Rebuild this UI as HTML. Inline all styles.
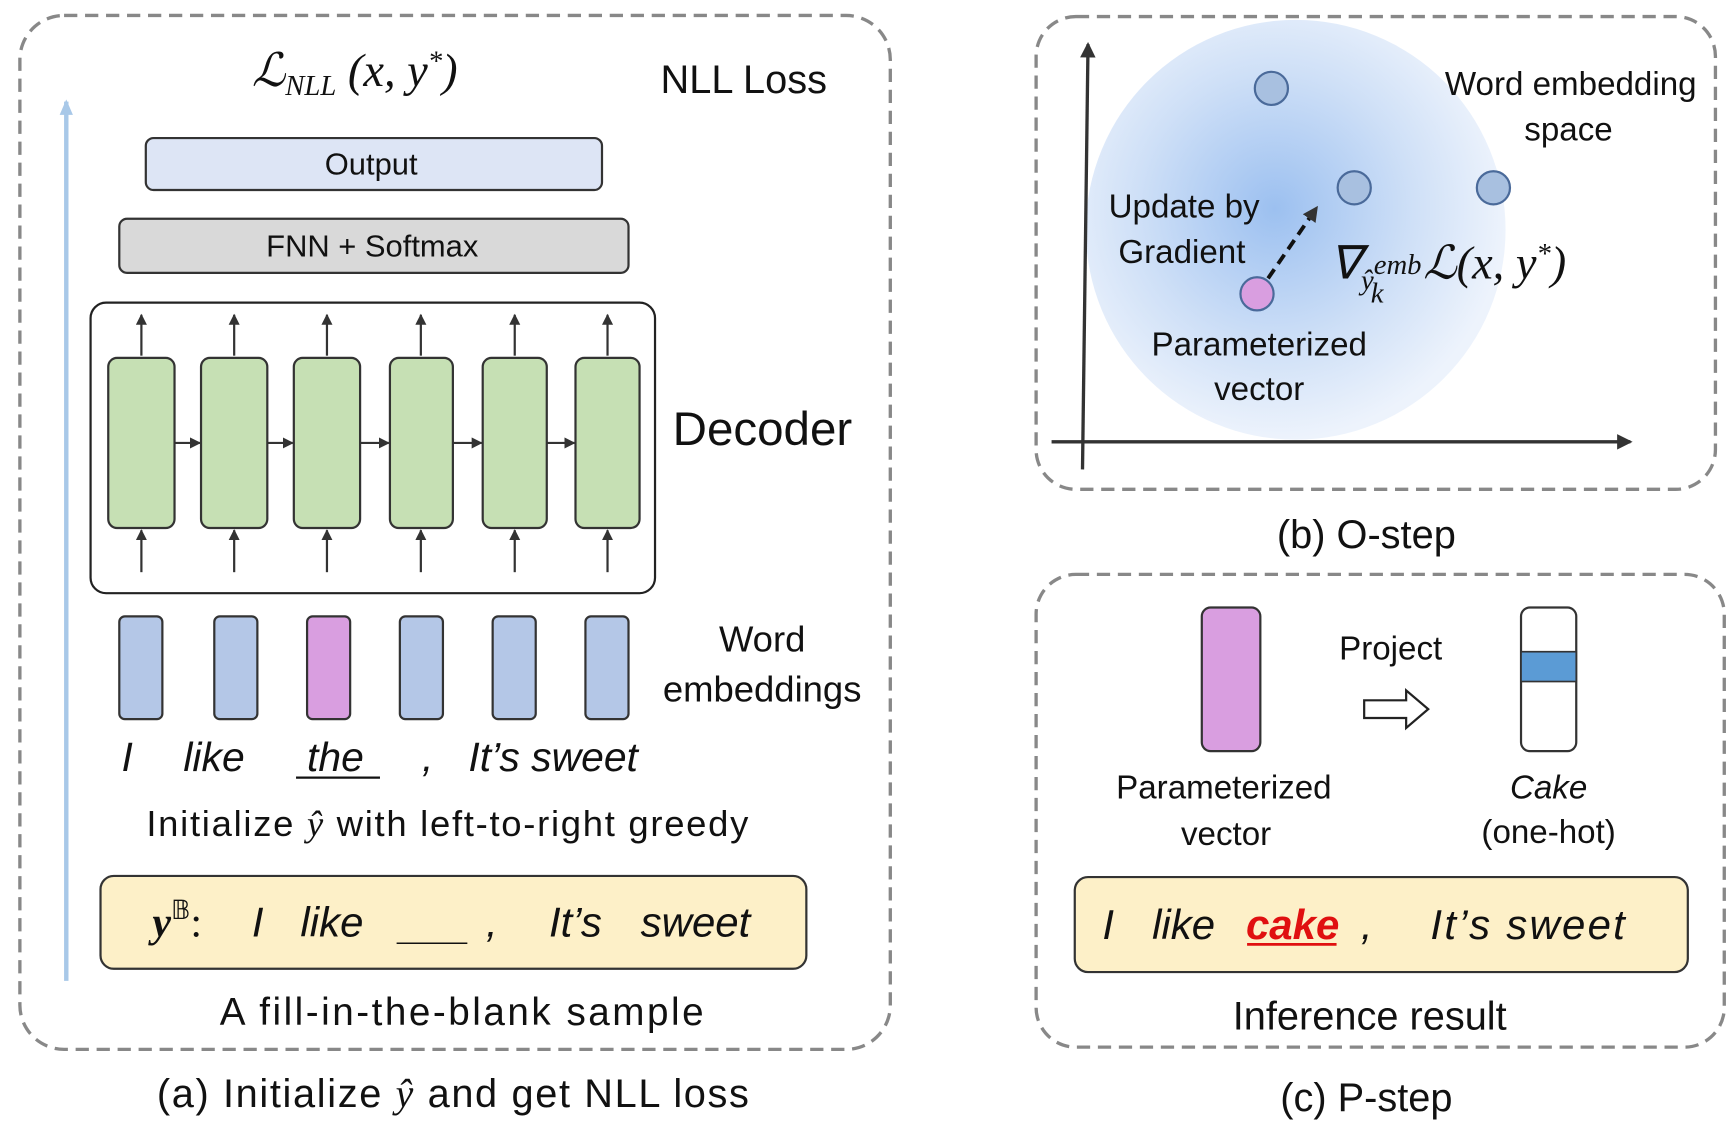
<!DOCTYPE html>
<html><head><meta charset="utf-8"><style>
html,body{margin:0;padding:0;background:#fff;}
svg{display:block;}
text{font-family:"Liberation Sans",sans-serif;fill:#111;}
.it{font-style:italic;}
.ser{font-family:"Liberation Serif",serif;font-style:italic;}
</style></head><body>
<svg width="1732" height="1130" viewBox="0 0 1568 1023" preserveAspectRatio="none" xmlns="http://www.w3.org/2000/svg">
<defs>
<marker id="ah" markerWidth="10" markerHeight="10" refX="9" refY="5" orient="auto" markerUnits="userSpaceOnUse"><path d="M0,0 L10,5 L0,10 z" fill="#333"/></marker>
<marker id="ahb" markerWidth="14" markerHeight="14" refX="12" refY="7" orient="auto" markerUnits="userSpaceOnUse"><path d="M0,0 L14,7 L0,14 z" fill="#333"/></marker>
<marker id="ahl" markerWidth="14" markerHeight="12" refX="12" refY="6" orient="auto" markerUnits="userSpaceOnUse"><path d="M0,0 L14,6 L0,12 z" fill="#a8c8e8"/></marker>
<radialGradient id="rg" cx="0.45" cy="0.45" r="0.55">
<stop offset="0" stop-color="#9cc0f0"/><stop offset="0.6" stop-color="#cfe0f7"/><stop offset="1" stop-color="#edf3fc"/></radialGradient>
</defs>
<!-- Panel a -->
<rect x="18" y="14" width="788" height="936" rx="40" fill="none" stroke="#888" stroke-width="3" stroke-dasharray="12,7"/>
<line x1="60" y1="888" x2="60" y2="92" stroke="#a8c8e8" stroke-width="4" marker-end="url(#ahl)"/>
<text x="228" y="78" class="ser" font-size="42">ℒ<tspan font-size="26" dy="8">NLL</tspan><tspan dy="-8"> (x, y</tspan><tspan font-size="26" dy="-14">*</tspan><tspan dy="14">)</tspan></text>
<text x="598" y="84" font-size="36">NLL Loss</text>
<rect x="132" y="125" width="413" height="47" rx="7" fill="#dde5f5" stroke="#333" stroke-width="2"/>
<text x="336" y="158" font-size="28" text-anchor="middle">Output</text>
<rect x="108" y="198" width="461" height="49" rx="7" fill="#d9d9d9" stroke="#333" stroke-width="2"/>
<text x="337" y="232" font-size="28" text-anchor="middle">FNN + Softmax</text>
<rect x="82" y="274" width="511" height="263" rx="14" fill="#fff" stroke="#222" stroke-width="2"/>
<g stroke="#333" stroke-width="2">
<line x1="128" y1="322" x2="128" y2="285" marker-end="url(#ah)"/><line x1="128" y1="518" x2="128" y2="480" marker-end="url(#ah)"/>
<line x1="212" y1="322" x2="212" y2="285" marker-end="url(#ah)"/><line x1="212" y1="518" x2="212" y2="480" marker-end="url(#ah)"/>
<line x1="296" y1="322" x2="296" y2="285" marker-end="url(#ah)"/><line x1="296" y1="518" x2="296" y2="480" marker-end="url(#ah)"/>
<line x1="381" y1="322" x2="381" y2="285" marker-end="url(#ah)"/><line x1="381" y1="518" x2="381" y2="480" marker-end="url(#ah)"/>
<line x1="466" y1="322" x2="466" y2="285" marker-end="url(#ah)"/><line x1="466" y1="518" x2="466" y2="480" marker-end="url(#ah)"/>
<line x1="550" y1="322" x2="550" y2="285" marker-end="url(#ah)"/><line x1="550" y1="518" x2="550" y2="480" marker-end="url(#ah)"/>
<line x1="158" y1="401" x2="181" y2="401" marker-end="url(#ah)"/>
<line x1="242" y1="401" x2="265" y2="401" marker-end="url(#ah)"/>
<line x1="326" y1="401" x2="352" y2="401" marker-end="url(#ah)"/>
<line x1="410" y1="401" x2="436" y2="401" marker-end="url(#ah)"/>
<line x1="495" y1="401" x2="520" y2="401" marker-end="url(#ah)"/>
</g>
<g fill="#c6e0b4" stroke="#333" stroke-width="2">
<rect x="98" y="324" width="60" height="154" rx="8"/><rect x="182" y="324" width="60" height="154" rx="8"/>
<rect x="266" y="324" width="60" height="154" rx="8"/><rect x="353" y="324" width="57" height="154" rx="8"/>
<rect x="437" y="324" width="58" height="154" rx="8"/><rect x="521" y="324" width="58" height="154" rx="8"/>
</g>
<text x="609" y="403" font-size="43">Decoder</text>
<g fill="#b4c7e7" stroke="#333" stroke-width="2">
<rect x="108" y="558" width="39" height="93" rx="5"/><rect x="194" y="558" width="39" height="93" rx="5"/>
<rect x="278" y="558" width="39" height="93" rx="5" fill="#d99ee0"/><rect x="362" y="558" width="39" height="93" rx="5"/>
<rect x="446" y="558" width="39" height="93" rx="5"/><rect x="530" y="558" width="39" height="93" rx="5"/>
</g>
<text x="690" y="590" font-size="33" text-anchor="middle">Word</text>
<text x="690" y="635" font-size="33" text-anchor="middle">embeddings</text>
<g font-size="37">
<text x="110" y="698" class="it">I</text><text x="166" y="698" class="it">like</text>
<text x="278" y="698" class="it">the</text><text x="382" y="698" class="it">,</text>
<text x="424" y="698" class="it">It’s sweet</text></g>
<line x1="268" y1="704" x2="344" y2="704" stroke="#111" stroke-width="2"/>
<text x="405" y="757" font-size="33" text-anchor="middle" textLength="545">Initialize <tspan class="ser">ŷ</tspan> with left-to-right greedy</text>
<rect x="91" y="793" width="639" height="84" rx="12" fill="#fdf0c8" stroke="#333" stroke-width="2"/>
<text x="138" y="848" font-size="38" class="ser" font-weight="bold">y<tspan font-size="24" dy="-16" font-weight="normal" font-style="normal">𝔹</tspan><tspan dy="16" font-style="normal" font-weight="normal">:</tspan></text>
<g font-size="38"><text x="228" y="848" class="it">I</text><text x="272" y="848" class="it">like</text>
<text x="362" y="850" class="it">___</text><text x="440" y="848" class="it">,</text>
<text x="497" y="848" class="it">It’s</text><text x="580" y="848" class="it">sweet</text></g>
<text x="418" y="928" font-size="35" text-anchor="middle" textLength="438">A fill-in-the-blank sample</text>
<text x="410" y="1002" font-size="36" text-anchor="middle" textLength="536">(a) Initialize <tspan class="ser">ŷ</tspan>  and get NLL loss</text>
<!-- Panel b -->
<rect x="938" y="15" width="615" height="428" rx="36" fill="none" stroke="#888" stroke-width="3" stroke-dasharray="12,7"/>
<circle cx="1173" cy="208" r="190" fill="url(#rg)"/>
<line x1="980" y1="425" x2="985" y2="40" stroke="#333" stroke-width="3" marker-end="url(#ahb)"/>
<line x1="952" y1="400" x2="1476" y2="400" stroke="#333" stroke-width="3" marker-end="url(#ahb)"/>
<g fill="#a8c0e0" stroke="#4a6a9a" stroke-width="2">
<circle cx="1151" cy="80" r="15"/><circle cx="1226" cy="170" r="15"/><circle cx="1352" cy="170" r="15"/></g>
<circle cx="1138" cy="266" r="15" fill="#d99ee0" stroke="#4a6a9a" stroke-width="2"/>
<line x1="1148" y1="252" x2="1192" y2="188" stroke="#111" stroke-width="3.5" stroke-dasharray="10,6" marker-end="url(#ahb)"/>
<text x="1422" y="86" font-size="30" text-anchor="middle">Word embedding</text>
<text x="1420" y="127" font-size="30" text-anchor="middle">space</text>
<text x="1072" y="197" font-size="30" text-anchor="middle">Update by</text>
<text x="1070" y="238" font-size="30" text-anchor="middle">Gradient</text>
<text x="1204" y="252" class="ser" font-size="42">∇<tspan font-size="26" dy="10">ŷ</tspan><tspan font-size="26" dy="-14">emb</tspan><tspan font-size="26" dx="-46" dy="26">k</tspan><tspan dx="36" dy="-22">ℒ(x, y</tspan><tspan font-size="26" dy="-14">*</tspan><tspan dy="14">)</tspan></text>
<text x="1140" y="322" font-size="30" text-anchor="middle">Parameterized</text>
<text x="1140" y="362" font-size="30" text-anchor="middle">vector</text>
<text x="1237" y="496" font-size="36" text-anchor="middle">(b) O-step</text>
<!-- Panel c -->
<rect x="938" y="520" width="623" height="428" rx="36" fill="none" stroke="#888" stroke-width="3" stroke-dasharray="12,7"/>
<rect x="1088" y="550" width="53" height="130" rx="8" fill="#d99ee0" stroke="#333" stroke-width="2"/>
<text x="1259" y="597" font-size="30" text-anchor="middle">Project</text>
<path d="M1235,634 L1273,634 L1273,625 L1293,642 L1273,659 L1273,650 L1235,650 z" fill="#fff" stroke="#222" stroke-width="2"/>
<rect x="1377" y="550" width="50" height="130" rx="8" fill="#fff" stroke="#333" stroke-width="2"/>
<rect x="1377" y="590" width="50" height="27" fill="#5b9bd5" stroke="#333" stroke-width="1.5"/>
<text x="1108" y="723" font-size="30" text-anchor="middle">Parameterized</text>
<text x="1110" y="765" font-size="30" text-anchor="middle">vector</text>
<text x="1402" y="723" font-size="30" text-anchor="middle" class="it">Cake</text>
<text x="1402" y="763" font-size="30" text-anchor="middle">(one-hot)</text>
<rect x="973" y="794" width="555" height="86" rx="12" fill="#fdf0c8" stroke="#333" stroke-width="2"/>
<g font-size="38"><text x="998" y="850" class="it">I</text><text x="1043" y="850" class="it">like</text>
<text x="1128" y="850" class="it" font-weight="bold" style="fill:#e01010">cake</text>
<text x="1232" y="850" class="it">,</text><text x="1295" y="850" class="it" textLength="176">It’s sweet</text></g>
<line x1="1129" y1="855" x2="1210" y2="855" stroke="#e01010" stroke-width="2.5"/>
<text x="1240" y="932" font-size="36" text-anchor="middle">Inference result</text>
<text x="1237" y="1006" font-size="36" text-anchor="middle">(c) P-step</text>
</svg>
</body></html>
